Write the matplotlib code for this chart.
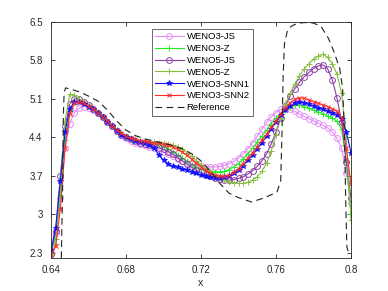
import numpy as np
import matplotlib
matplotlib.use("Agg")
import matplotlib.pyplot as plt

plt.rcParams['font.family'] = ['Liberation Sans', 'DejaVu Sans']

x = np.round(np.arange(65) * 0.0025 + 0.64, 5)

weno3_js = [2.30, 2.65, 3.30, 4.20, 4.65, 4.85, 4.93, 4.96, 4.94, 4.90, 4.84, 4.76, 4.68,
            4.60, 4.52, 4.45, 4.39, 4.34, 4.30, 4.27, 4.25, 4.23, 4.20, 4.17, 4.13, 4.09,
            4.05, 4.01, 3.97, 3.94, 3.91, 3.89, 3.87, 3.86, 3.86, 3.86, 3.87, 3.89, 3.92,
            3.96, 4.02, 4.10, 4.19, 4.30, 4.42, 4.55, 4.67, 4.77, 4.85, 4.91, 4.93, 4.91,
            4.87, 4.82, 4.78, 4.74, 4.70, 4.66, 4.62, 4.57, 4.50, 4.38, 4.20, 3.75, 3.20]
weno3_z = [2.30, 2.55, 3.35, 4.35, 4.88, 5.04, 5.06, 5.02, 4.97, 4.92, 4.85, 4.77, 4.69,
           4.61, 4.53, 4.46, 4.41, 4.37, 4.35, 4.33, 4.32, 4.30, 4.28, 4.26, 4.23, 4.19,
           4.14, 4.08, 4.02, 3.96, 3.90, 3.85, 3.82, 3.80, 3.78, 3.77, 3.77, 3.78, 3.81,
           3.86, 3.92, 4.00, 4.10, 4.20, 4.31, 4.42, 4.53, 4.65, 4.75, 4.83, 4.90, 4.95,
           4.98, 4.98, 4.96, 4.93, 4.89, 4.86, 4.83, 4.79, 4.75, 4.69, 4.55, 3.95, 3.00]
weno5_js = [2.28, 2.70, 3.70, 4.60, 5.00, 5.10, 5.10, 5.05, 4.98, 4.92, 4.85, 4.77, 4.68,
            4.60, 4.52, 4.45, 4.40, 4.36, 4.33, 4.30, 4.28, 4.26, 4.24, 4.21, 4.18, 4.14,
            4.09, 4.03, 3.97, 3.91, 3.85, 3.80, 3.76, 3.72, 3.69, 3.66, 3.64, 3.63, 3.62,
            3.63, 3.65, 3.68, 3.73, 3.79, 3.87, 3.97, 4.10, 4.28, 4.50, 4.75, 4.97, 5.15,
            5.28, 5.40, 5.50, 5.58, 5.65, 5.70, 5.72, 5.65, 5.45, 5.12, 4.68, 3.95, 3.30]
weno5_z = [2.25, 2.45, 3.60, 4.70, 5.18, 5.17, 5.10, 5.04, 4.98, 4.93, 4.86, 4.78, 4.70,
           4.62, 4.54, 4.47, 4.42, 4.38, 4.36, 4.34, 4.33, 4.32, 4.31, 4.30, 4.29, 4.27,
           4.25, 4.22, 4.18, 4.12, 4.05, 3.97, 3.90, 3.83, 3.77, 3.71, 3.66, 3.62, 3.59,
           3.57, 3.56, 3.56, 3.58, 3.62, 3.68, 3.78, 3.93, 4.15, 4.45, 4.75, 5.00, 5.20,
           5.37, 5.52, 5.64, 5.74, 5.82, 5.88, 5.91, 5.86, 5.74, 5.55, 5.20, 4.40, 2.90]
weno3_snn1 = [2.35, 2.75, 3.60, 4.50, 4.92, 5.04, 5.05, 5.01, 4.96, 4.91, 4.84, 4.76, 4.68,
              4.60, 4.52, 4.45, 4.40, 4.36, 4.33, 4.31, 4.29, 4.26, 4.20, 4.08, 3.98, 3.91,
              3.87, 3.85, 3.83, 3.80, 3.77, 3.74, 3.71, 3.69, 3.67, 3.66, 3.66, 3.68, 3.70,
              3.74, 3.80, 3.88, 3.98, 4.08, 4.19, 4.30, 4.42, 4.55, 4.68, 4.80, 4.90, 4.97,
              5.02, 5.04, 5.03, 5.00, 4.97, 4.94, 4.91, 4.88, 4.85, 4.81, 4.73, 4.50, 4.12]
weno3_snn2 = [2.25, 2.42, 3.10, 4.20, 4.82, 5.02, 5.05, 5.02, 4.97, 4.92, 4.85, 4.77, 4.69,
              4.61, 4.54, 4.47, 4.42, 4.38, 4.36, 4.34, 4.33, 4.31, 4.30, 4.29, 4.27, 4.25,
              4.22, 4.18, 4.13, 4.07, 4.00, 3.93, 3.86, 3.80, 3.75, 3.71, 3.69, 3.69, 3.71,
              3.76, 3.83, 3.92, 4.02, 4.12, 4.23, 4.35, 4.46, 4.58, 4.70, 4.82, 4.93, 5.03,
              5.09, 5.12, 5.11, 5.08, 5.05, 5.02, 4.99, 4.96, 4.92, 4.87, 4.75, 4.20, 3.55]

ref_x = [0.6455, 0.6462, 0.6466, 0.6470, 0.6478, 0.655, 0.660, 0.665, 0.670, 0.675, 0.680,
         0.685, 0.690, 0.695, 0.700, 0.705, 0.710, 0.715, 0.720, 0.725, 0.730, 0.735, 0.740,
         0.747, 0.754, 0.7605, 0.7625, 0.7632, 0.7638, 0.7645, 0.766, 0.768, 0.771, 0.775,
         0.780, 0.784, 0.788, 0.791, 0.794, 0.7955, 0.7965, 0.7972, 0.7978, 0.7985, 0.800]
ref_y = [2.20, 3.50, 4.80, 5.22, 5.30, 5.23, 5.15, 5.06, 4.90, 4.70, 4.53, 4.43, 4.37, 4.33,
         4.29, 4.25, 4.19, 4.10, 3.97, 3.78, 3.56, 3.38, 3.30, 3.22, 3.30, 3.40, 3.60, 4.50,
         5.50, 6.10, 6.33, 6.42, 6.47, 6.49, 6.48, 6.42, 6.20, 5.95, 5.65, 5.30, 4.50, 3.20,
         2.40, 2.32, 2.32]

labels = ['WENO3-JS', 'WENO3-Z', 'WENO5-JS', 'WENO5-Z', 'WENO3-SNN1', 'WENO3-SNN2', 'Reference']
yticks = [2.3, 3, 3.7, 4.4, 5.1, 5.8, 6.5]
ytick_labels = ['2.3', '3', '3.7', '4.4', '5.1', '5.8', '6.5']
xticks = [0.64, 0.68, 0.72, 0.76, 0.8]
xtick_labels = ['0.64', '0.68', '0.72', '0.76', '0.8']

fig = plt.figure(figsize=(3.88, 2.91), dpi=100)
ax = fig.add_axes([51/388, 33/291, 300/388, 236/291])

series = [
    (weno3_js, dict(color='#e58cf5', marker='o', ms=4.2, mfc='none', mew=0.7)),
    (weno3_z, dict(color='#22ee22', marker='+', ms=4.5, mew=0.7)),
    (weno5_js, dict(color='#8a3fa6', marker='o', ms=4.2, mfc='none', mew=0.7)),
    (weno5_z, dict(color='#86c03c', marker='+', ms=4.5, mew=0.7)),
    (weno3_snn1, dict(color='#1010ff', marker='*', ms=4.0, mew=0.6)),
    (weno3_snn2, dict(color='#ff2a2a', marker='x', ms=3.5, mew=0.7)),
]
for (vals, st), lab in zip(series, labels[:6]):
    ax.plot(x, vals, lw=0.8, label=lab, **st)
ax.plot(ref_x, ref_y, color='#222222', ls=(0, (6, 4)), lw=0.8, label=labels[6])

ax.set_xlim(0.64, 0.8)
ax.set_ylim(2.2, 6.5)
ax.set_xticks(xticks)
ax.set_xticklabels(xtick_labels)
ax.set_yticks(yticks)
ax.set_yticklabels(ytick_labels)
ax.tick_params(direction='in', length=3, width=0.6, labelsize=7, colors='#262626',
               top=True, right=True)
ax.tick_params(axis='y', pad=6)
ax.tick_params(axis='x', pad=5)
for s in ax.spines.values():
    s.set_linewidth(0.6)
    s.set_color('#262626')
ax.set_xlabel('x', fontsize=7.5, color='#262626', labelpad=2)

leg = ax.legend(loc='upper left', bbox_to_anchor=(152/388, 1 - 29/291),
                bbox_transform=fig.transFigure, fontsize=6.8, frameon=True,
                fancybox=False, edgecolor='#262626', handlelength=3.0,
                labelspacing=0.3, borderpad=0.35, handletextpad=0.3, borderaxespad=0)
leg.get_frame().set_linewidth(0.6)

fig.savefig('out.png', dpi=100)
